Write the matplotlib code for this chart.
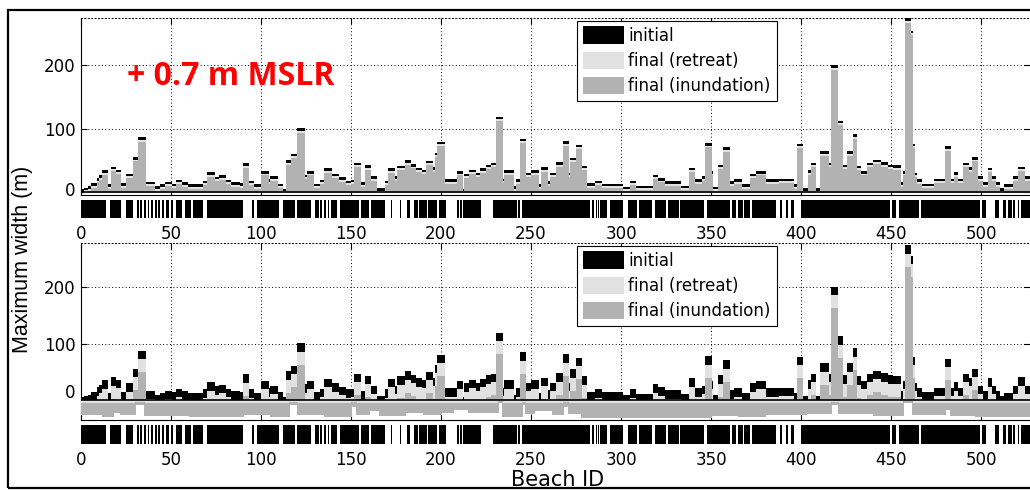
import numpy as np
import matplotlib.pyplot as plt
from matplotlib.patches import Rectangle, Patch
from matplotlib.transforms import ScaledTranslation

plt.rcParams['font.family'] = ['DejaVu Sans']
plt.rcParams['path.simplify'] = False

# initial beach width (m) as (number of beaches, width) runs
initial_runs = [
    (2, 4), (2, 7), (2, 9), (3, 14), (1, 22), (2, 26), (3, 34), (2, 12), (2, 40), (3, 35),
    (3, 14), (4, 29), (3, 55), (4, 86), (5, 16), (3, 9), (3, 12), (3, 16), (3, 13), (3, 19),
    (3, 15), (9, 12), (2, 18), (4, 31), (3, 24), (3, 26), (3, 19), (5, 15), (2, 14), (3, 45),
    (3, 18), (4, 12), (4, 33), (1, 20), (4, 25), (3, 13), (2, 5), (3, 50), (3, 60), (4, 100),
    (2, 27), (3, 33), (4, 13), (2, 19), (4, 37), (4, 29), (4, 23), (3, 18), (2, 19), (3, 46),
    (3, 15), (3, 42), (3, 25), (5, 6), (2, 18), (3, 37), (2, 25), (4, 41), (3, 50), (3, 44),
    (3, 38), (3, 35), (3, 49), (2, 39), (1, 62), (4, 79), (7, 20), (3, 33), (1, 5), (3, 29),
    (3, 35), (3, 30), (3, 37), (3, 43), (3, 46), (3, 118), (1, 21), (5, 34), (2, 9), (2, 20),
    (3, 84), (3, 30), (4, 34), (2, 12), (3, 39), (2, 17), (3, 30), (4, 47), (3, 80), (1, 30),
    (3, 54), (3, 74), (3, 41), (5, 14), (3, 18), (12, 13), (4, 8), (3, 18), (10, 10), (2, 27),
    (4, 22), (9, 17), (5, 10), (3, 38), (4, 20), (2, 25), (3, 77), (1, 33), (3, 8), (3, 43),
    (3, 70), (3, 17), (4, 20), (5, 12), (3, 29), (5, 33), (8, 20), (8, 21), (2, 12), (3, 76),
    (3, 6), (2, 34), (2, 46), (3, 6), (4, 64), (2, 46), (3, 199), (3, 112), (3, 43), (3, 64),
    (2, 91), (2, 41), (4, 33), (3, 46), (4, 51), (4, 47), (3, 43), (4, 42), (2, 15), (1, 33),
    (3, 273), (1, 254), (1, 76), (1, 30), (3, 20), (7, 13), (6, 21), (3, 72), (2, 21), (2, 31),
    (3, 21), (3, 46), (2, 39), (3, 55), (3, 25), (3, 15), (2, 38), (2, 25), (2, 15), (3, 6),
    (5, 12), (3, 25), (3, 40), (4, 25),
]

# width lost (m) in each panel, same run format
loss_retreat_top = [(528, 4)]
loss_inund_top = [(528, 7)]
loss_retreat_bot = [(528, 15)]
loss_inund_bot = [(528, 38)]

# bars drawn below zero in the lower panel (m): run lengths and values per run
below_counts = [12, 6, 4, 8, 5, 25, 30, 15, 11, 4, 15, 15, 3, 7, 6, 14, 10, 10, 1, 6, 8, 17,
                2, 11, 2, 5, 10, 6, 3, 7, 72, 15, 15, 23, 14, 4, 19, 17, 5, 18, 3, 14, 31]
below_retreat_bot = [-5, -5, -6, -5, -4, -5, -5, -5, -6, -4, -6, -5, -4, -6, -5, -6, -5, -6,
                     -20, -6, -5, -6, -3, -6, -4, -6, -5, -6, -4, -6, -6, -5, -5, -6, -5, -4,
                     -6, -5, -3, -6, -5, -6, -6]
below_inund_bot = [-25, -29, -21, -26, -7, -27, -28, -26, -29, -7, -25, -29, -12, -26, -18,
                   -27, -22, -25, -20, -22, -17, -21, -4, -28, -8, -24, -19, -26, -12, -24,
                   -30, -27, -29, -26, -24, -8, -23, -27, -4, -26, -17, -27, -29]

# beaches marked black in the strip under each panel (start, end) in beach ID
strip_black = [
    (0, 14), (16, 22), (25, 29), (31, 32), (33, 34), (35, 36), (37, 38), (39, 40), (41, 42),
    (43, 44), (45, 46), (47, 49), (50, 51), (53, 56), (58, 61), (62, 68), (70, 90), (95, 96),
    (98, 110), (112, 119), (120, 128), (130, 132), (133, 134), (135, 136), (137, 138),
    (139, 142), (144, 154.6), (155.4, 160), (161, 169), (172, 173), (177, 178), (181, 183),
    (185, 187), (188, 192), (193, 198), (199, 203), (209, 210), (210.5, 211.5), (212, 222),
    (229, 242), (243, 244), (245, 283), (284, 285), (286, 286.6), (287, 288), (288.5, 292),
    (294, 301), (304, 309), (310, 317), (319, 325), (326, 332), (333, 346), (348, 360.5),
    (361.5, 364), (365, 367.5), (368.5, 371.5), (372.5, 386), (388.5, 389.5), (391.5, 393),
    (394.5, 396), (400, 449.3), (450.3, 452.5), (454.5, 465.5), (466.5, 499.3), (500.3, 503),
    (508, 510), (512, 514), (515, 517), (518, 519), (520.5, 521.3), (522, 528),
]

x_ticks = list(range(0, 501, 50))
y_ticks = [0, 100, 200]
legend_labels = ['initial', 'final (retreat)', 'final (inundation)']
c_init, c_ret, c_inu = 'black', '#e1e1e1', '#b2b2b2'


def expand(runs):
    return np.concatenate([np.full(n, v, dtype=float) for n, v in runs])


initial = expand(initial_runs)
n_beach = len(initial)
edges = np.arange(n_beach + 1)
below_ret = expand(zip(below_counts, below_retreat_bot))
below_inu = expand(zip(below_counts, below_inund_bot))

W, H = 1030, 490


def box(x0, y0, x1, y1):
    return [x0 / W, 1 - y1 / H, (x1 - x0) / W, (y1 - y0) / H]


fig = plt.figure(figsize=(10.3, 4.9), dpi=100)
fig.patches.append(Rectangle((7.5 / W, 1 - 488 / H), 1.1, (488 - 10) / H, transform=fig.transFigure,
                             fill=False, ec='black', lw=1.6))

panels = [
    dict(main=box(81, 18.3, 1030, 195), strip=box(81, 200, 1030, 218), l_ret=loss_retreat_top,
         l_inu=loss_inund_top, neg=None, ylim=(-4, 274), zero_shift=3),
    dict(main=box(81, 243.3, 1030, 420), strip=box(81, 425, 1030, 444), l_ret=loss_retreat_bot,
         l_inu=loss_inund_bot, neg=(below_ret, below_inu), ylim=(-35, 277), zero_shift=9),
]


def band(ax, top, bottom, color):
    # each colour fills only its own band, so no layer shows through another
    ax.stairs(top, edges, baseline=bottom, fill=True, color=color, lw=0, zorder=3,
              antialiased=False)


axes_main = []
for p in panels:
    ax = fig.add_axes(p['main'])
    axes_main.append(ax)
    retreat = np.maximum(initial - expand(p['l_ret']), 0)
    inund = np.maximum(initial - expand(p['l_inu']), 0)
    zero = np.zeros(n_beach)
    band(ax, initial, retreat, c_init)
    band(ax, retreat, inund, c_ret)
    band(ax, inund, zero, c_inu)
    if p['neg'] is not None:
        neg_ret, neg_inu = p['neg']
        band(ax, zero, neg_ret, c_ret)
        band(ax, neg_ret, np.minimum(neg_inu, neg_ret), c_inu)
    ax.axhline(0, color='black', lw=1.2, zorder=5)
    ax.set_xlim(0, 527.2)
    ax.set_ylim(*p['ylim'])
    ax.set_xticks(x_ticks)
    ax.set_yticks(y_ticks)
    ax.tick_params(axis='x', labelbottom=False, direction='in', top=True, length=4)
    ax.tick_params(axis='y', labelsize=12, direction='in', right=True, length=4, pad=4)
    ax.grid(True, color='black', linestyle=(0, (1, 2.5)), lw=0.7, zorder=1)
    ax.spines['top'].set_linestyle((0, (1, 2.5)))
    ax.spines['top'].set_linewidth(0.7)
    ax.spines['right'].set_visible(False)
    zero_lab = ax.yaxis.get_major_ticks()[0].label1
    zero_lab.set_transform(zero_lab.get_transform()
                           + ScaledTranslation(0, p['zero_shift'] / 100, fig.dpi_scale_trans))
    handles = [Patch(fc=c, ec='none') for c in (c_init, c_ret, c_inu)]
    leg = ax.legend(handles, legend_labels, loc='upper right', bbox_to_anchor=(0.733, 0.987),
                    borderaxespad=0, fancybox=False, edgecolor='black', framealpha=1,
                    fontsize=12, handlelength=2.5, handleheight=1.2, handletextpad=0.25,
                    labelspacing=0.42, borderpad=0.35)
    leg.get_frame().set_linewidth(0.8)
    leg.set_zorder(10)

    st = fig.add_axes(p['strip'])
    st.broken_barh([(a, b - a) for a, b in strip_black], (0, 1), facecolors='black')
    st.set_xlim(0, 527.2)
    st.set_ylim(0, 1)
    st.set_xticks(x_ticks)
    st.set_yticks([])
    st.tick_params(axis='x', length=0, labelsize=12, pad=5)
    for s in st.spines.values():
        s.set_visible(False)

axes_main[0].text(0.0485, 0.673, '+ 0.7 m MSLR', transform=axes_main[0].transAxes, color='red',
                  fontsize=23, fontweight='bold', family=['Open Sans', 'DejaVu Sans'],
                  va='center')

fig.text(0.022, 0.47, 'Maximum width (m)', rotation=90, ha='center', va='center', fontsize=15.5,
         family=['Liberation Sans', 'DejaVu Sans'])
fig.text(558 / W, 1 - 480 / H, 'Beach ID', ha='center', va='center', fontsize=15)

fig.savefig('out.png', dpi=100)
